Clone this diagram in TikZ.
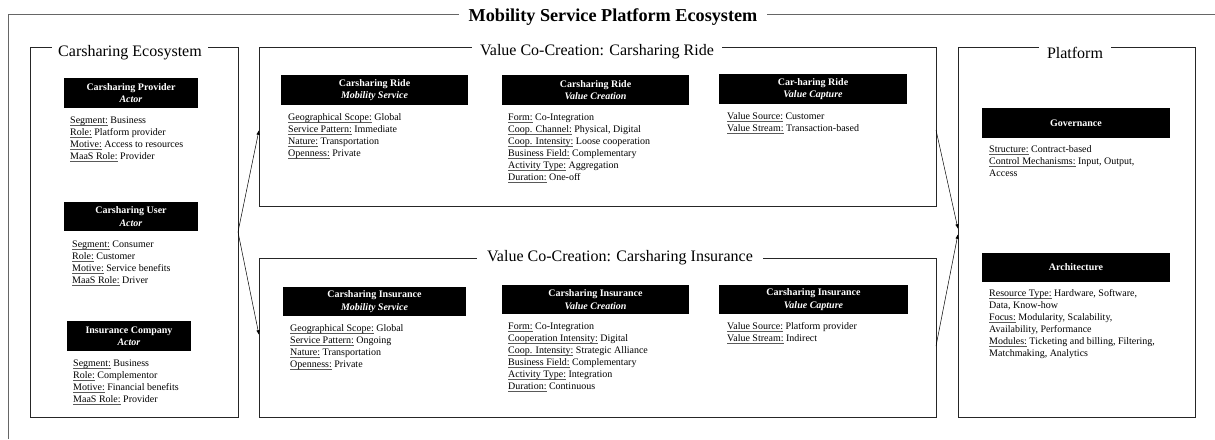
\documentclass[tikz,border=0pt]{standalone}
\usepackage{fontspec}
\setmainfont{Liberation Serif}
\usetikzlibrary{arrows.meta}
\newcommand\ulab[1]{\sbox0{#1}\rlap{\color{black!65}\rule[-1.9pt]{\wd0}{0.65pt}}\usebox0}
\tikzset{
  frame/.style={draw=black!85, line width=0.7pt, inner sep=0pt, outer sep=0pt},
  ftitle/.style={fill=white, inner xsep=6pt, inner ysep=1.5pt, anchor=base, font=\fontsize{16}{18}\selectfont},
  hdr/.style={fill=black, text=white, align=center, inner sep=0pt, font=\fontsize{10}{12.5}\selectfont\bfseries},
  body/.style={anchor=north west, align=left, inner sep=0pt, font=\fontsize{10}{12}\selectfont},
  arr/.style={-{Latex[length=4.5pt,width=3.5pt]}, line width=0.5pt, shorten >=0.3pt},
  outerframe/.style={draw=black!60, line width=1pt}
}
\begin{document}
\begin{tikzpicture}[x=1pt,y=-1pt]
\useasboundingbox (0,0) rectangle (1215,439);
\fill[white] (0,0) rectangle (1215,439);

% outer frame
\draw[outerframe] (8,439) -- (8,14) -- (1215,14);
\node[fill=white, inner xsep=10pt, inner ysep=1.5pt, anchor=base, font=\fontsize{18.2}{20}\selectfont\bfseries] (maintitle) at (613,21) {Mobility Service Platform Ecosystem};

% frames
\node[frame, minimum width=208pt, minimum height=370pt] (eco) at (134,232) {};
\node[frame, minimum width=677pt, minimum height=159pt] (ride) at (597.5,126.5) {};
\node[frame, minimum width=677pt, minimum height=159pt] (ins) at (597.5,337.5) {};
\node[frame, minimum width=237pt, minimum height=370pt] (plat) at (1076.5,232) {};

% frame titles
\node[ftitle] (ecot) at (130,56.5) {Carsharing Ecosystem};
\node[ftitle, inner xsep=8pt] (ridet) at (597,55) {Value Co-Creation: Carsharing Ride};
\node[ftitle, inner xsep=10pt] (inst) at (620,261.5) {Value Co-Creation: Carsharing Insurance};
\node[ftitle, inner xsep=8pt] (platt) at (1075,58) {Platform};

% ---- Carsharing Ecosystem ----
\node[hdr, minimum width=134pt, minimum height=30pt] (hprov) at (131,93) {Carsharing Provider\\\textit{Actor}};
\node[body] (tprov) at (70,116.5) {\ulab{Segment:} Business\\\ulab{Role:} Platform provider\\\ulab{Motive:} Access to resources\\\ulab{MaaS Role:} Provider};

\node[hdr, minimum width=134pt, minimum height=29pt] (huser) at (131,216.5) {Carsharing User\\\textit{Actor}};
\node[body] (tuser) at (72,240.5) {\ulab{Segment:} Consumer\\\ulab{Role:} Customer\\\ulab{Motive:} Service benefits\\\ulab{MaaS Role:} Driver};

\node[hdr, minimum width=124pt, minimum height=30pt] (hinsco) at (129,336) {Insurance Company\\\textit{Actor}};
\node[body] (tinsco) at (73,359.5) {\ulab{Segment:} Business\\\ulab{Role:} Complementor\\\ulab{Motive:} Financial benefits\\\ulab{MaaS Role:} Provider};

% ---- Value Co-Creation: Carsharing Ride ----
\node[hdr, minimum width=187pt, minimum height=30pt] (hrms) at (374.5,90) {Carsharing Ride\\\textit{Mobility Service}};
\node[body] (trms) at (288,113.5) {\ulab{Geographical Scope:} Global\\\ulab{Service Pattern:} Immediate\\\ulab{Nature:} Transportation\\\ulab{Openness:} Private};

\node[hdr, minimum width=187pt, minimum height=30pt] (hrvc) at (595.5,90) {Carsharing Ride\\\textit{Value Creation}};
\node[body] (trvc) at (508,113.5) {\ulab{Form:} Co-Integration\\\ulab{Coop. Channel:} Physical, Digital\\\ulab{Coop. Intensity:} Loose cooperation\\\ulab{Business Field:} Complementary\\\ulab{Activity Type:} Aggregation\\\ulab{Duration:} One-off};

\node[hdr, minimum width=188pt, minimum height=30pt] (hrcap) at (813,89) {Car-haring Ride\\\textit{Value Capture}};
\node[body] (trcap) at (727,112.5) {\ulab{Value Source:} Customer\\\ulab{Value Stream:} Transaction-based};

% ---- Value Co-Creation: Carsharing Insurance ----
\node[hdr, minimum width=183pt, minimum height=29pt] (hims) at (374.5,301.5) {Carsharing Insurance\\\textit{Mobility Service}};
\node[body] (tims) at (290,324.5) {\ulab{Geographical Scope:} Global\\\ulab{Service Pattern:} Ongoing\\\ulab{Nature:} Transportation\\\ulab{Openness:} Private};

\node[hdr, minimum width=187pt, minimum height=29pt] (hivc) at (595.5,299.5) {Carsharing Insurance\\\textit{Value Creation}};
\node[body] (tivc) at (508,322.5) {\ulab{Form:} Co-Integration\\\ulab{Cooperation Intensity:} Digital\\\ulab{Coop. Intensity:} Strategic Alliance\\\ulab{Business Field:} Complementary\\\ulab{Activity Type:} Integration\\\ulab{Duration:} Continuous};

\node[hdr, minimum width=189pt, minimum height=29pt] (hicap) at (813.5,299.5) {Carsharing Insurance\\\textit{Value Capture}};
\node[body] (ticap) at (727,322.5) {\ulab{Value Source:} Platform provider\\\ulab{Value Stream:} Indirect};

% ---- Platform ----
\node[hdr, minimum width=188pt, minimum height=30pt] (hgov) at (1076,123) {Governance};
\node[body] (tgov) at (989,145.5) {\ulab{Structure:} Contract-based\\\ulab{Control Mechanisms:} Input, Output,\\Access};

\node[hdr, minimum width=188pt, minimum height=29pt] (harch) at (1076,267.5) {Architecture};
\node[body] (tarch) at (989,289.5) {\ulab{Resource Type:} Hardware, Software,\\Data, Know-how\\\ulab{Focus:} Modularity, Scalability,\\Availability, Performance\\\ulab{Modules:} Ticketing and billing, Filtering,\\Matchmaking, Analytics};

% ---- connectors ----
\draw[arr] (eco.east) -- ([yshift=-3.5pt]ride.west);
\draw[arr] (eco.east) -- ([yshift=2.5pt]ins.west);
\draw[arr] ([yshift=-3.5pt]ride.east) -- ([yshift=3pt]plat.west);
\draw[arr] ([yshift=-8.5pt]ins.east) -- ([yshift=-2pt]plat.west);
\end{tikzpicture}
\end{document}
